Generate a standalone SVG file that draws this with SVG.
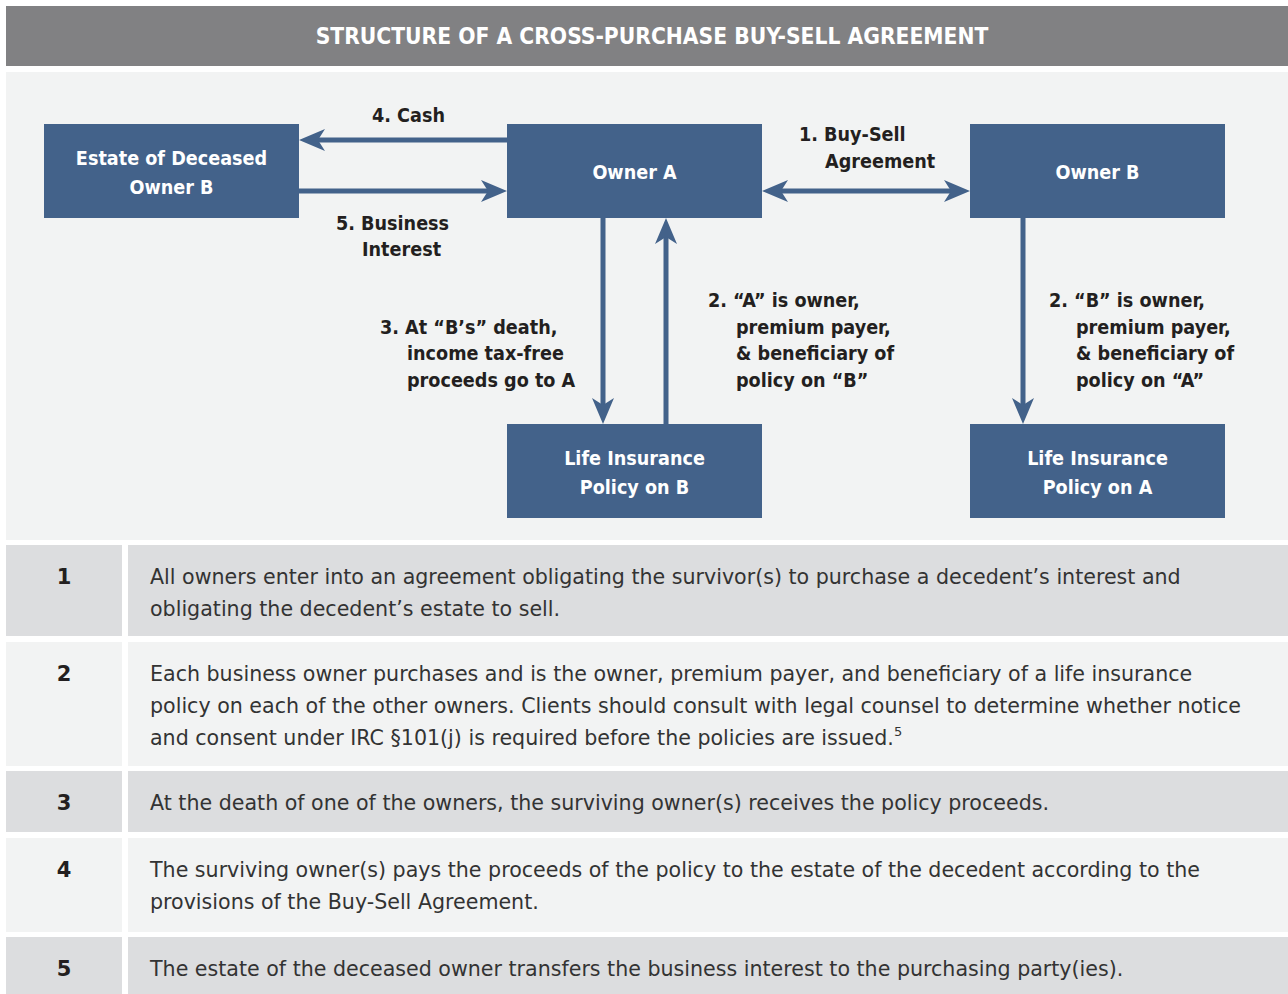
<svg xmlns="http://www.w3.org/2000/svg" width="1288" height="994" viewBox="0 0 1288 994">
<defs>
<style>
.node rect{fill:#43628a}
.nt{font-family:"DejaVu Sans Condensed","DejaVu Sans",sans-serif;font-weight:bold;font-size:19.6px;fill:#ffffff;text-anchor:middle}
.lbl{font-family:"DejaVu Sans Condensed","DejaVu Sans",sans-serif;font-weight:bold;font-size:19.6px;fill:#231f20}
.conn line{stroke:#43628a;stroke-width:5}
.num{font-family:"DejaVu Sans",sans-serif;font-size:21px;fill:#231f20;text-anchor:middle;font-weight:bold}
.body{font-family:"DejaVu Sans",sans-serif;font-size:20.6px;fill:#333333}
.dark{fill:#dcdddf}
.light{fill:#f2f3f3}
</style>
<marker id="ah" markerUnits="userSpaceOnUse" markerWidth="26" markerHeight="22" refX="7" refY="11" orient="auto-start-reverse" viewBox="0 0 26 22">
<path d="M26,11 L0,0 L7,11 L0,22 Z" fill="#43628a"/>
</marker>
</defs>
<rect x="0" y="0" width="1288" height="994" fill="#ffffff"/>
<g id="header">
<rect x="6" y="6" width="1282" height="60" fill="#818183"/>
<text x="652" y="44" text-anchor="middle" style="font-family:'DejaVu Sans Condensed','DejaVu Sans',sans-serif;font-weight:bold;font-size:22.6px;fill:#ffffff">STRUCTURE OF A CROSS-PURCHASE BUY-SELL AGREEMENT</text>
</g>
<rect x="6" y="72" width="1282" height="468" fill="#f2f3f3"/>
<g id="connectors" class="conn">
<line x1="507" y1="140" x2="318" y2="140" marker-end="url(#ah)"/>
<line x1="299" y1="191" x2="488" y2="191" marker-end="url(#ah)"/>
<line x1="781" y1="191" x2="951" y2="191" marker-start="url(#ah)" marker-end="url(#ah)"/>
<line x1="603" y1="218" x2="603" y2="405" marker-end="url(#ah)"/>
<line x1="666" y1="424" x2="666" y2="237" marker-end="url(#ah)"/>
<line x1="1023" y1="218" x2="1023" y2="405" marker-end="url(#ah)"/>
</g>
<g id="labels" class="lbl">
<text x="372" y="122">4. Cash</text>
<text x="336" y="230">5. Business</text>
<text x="362" y="256">Interest</text>
<text x="799" y="141">1. Buy-Sell</text>
<text x="825" y="168">Agreement</text>
<text x="380" y="334">3. At “B’s” death,</text>
<text x="407" y="360">income tax-free</text>
<text x="407" y="387">proceeds go to A</text>
<text x="708" y="307">2. “A” is owner,</text>
<text x="736" y="334">premium payer,</text>
<text x="736" y="360">&amp; beneficiary of</text>
<text x="736" y="387">policy on “B”</text>
<text x="1049" y="307">2. “B” is owner,</text>
<text x="1076" y="334">premium payer,</text>
<text x="1076" y="360">&amp; beneficiary of</text>
<text x="1076" y="387">policy on “A”</text>
</g>
<g id="estate" class="node">
<rect x="44" y="124" width="255" height="94"/>
<text class="nt" x="171.5" y="165">Estate of Deceased</text>
<text class="nt" x="171.5" y="194">Owner B</text>
</g>
<g id="ownerA" class="node">
<rect x="507" y="124" width="255" height="94"/>
<text class="nt" x="634.5" y="179">Owner A</text>
</g>
<g id="ownerB" class="node">
<rect x="970" y="124" width="255" height="94"/>
<text class="nt" x="1097.5" y="179">Owner B</text>
</g>
<g id="policyB" class="node">
<rect x="507" y="424" width="255" height="94"/>
<text class="nt" x="634.5" y="465">Life Insurance</text>
<text class="nt" x="634.5" y="494">Policy on B</text>
</g>
<g id="policyA" class="node">
<rect x="970" y="424" width="255" height="94"/>
<text class="nt" x="1097.5" y="465">Life Insurance</text>
<text class="nt" x="1097.5" y="494">Policy on A</text>
</g>
<g id="table">
<rect class="dark" x="6" y="545" width="116" height="91"/>
<rect class="dark" x="128" y="545" width="1160" height="91"/>
<rect class="light" x="6" y="642" width="116" height="124"/>
<rect class="light" x="128" y="642" width="1160" height="124"/>
<rect class="dark" x="6" y="771" width="116" height="61"/>
<rect class="dark" x="128" y="771" width="1160" height="61"/>
<rect class="light" x="6" y="838" width="116" height="94"/>
<rect class="light" x="128" y="838" width="1160" height="94"/>
<rect class="dark" x="6" y="937" width="116" height="57"/>
<rect class="dark" x="128" y="937" width="1160" height="57"/>
<text class="num" x="64" y="584">1</text>
<text class="num" x="64" y="681">2</text>
<text class="num" x="64" y="810">3</text>
<text class="num" x="64" y="877">4</text>
<text class="num" x="64" y="976">5</text>
<text class="body" x="150" y="584">All owners enter into an agreement obligating the survivor(s) to purchase a decedent’s interest and</text>
<text class="body" x="150" y="616">obligating the decedent’s estate to sell.</text>
<text class="body" x="150" y="681">Each business owner purchases and is the owner, premium payer, and beneficiary of a life insurance</text>
<text class="body" x="150" y="713">policy on each of the other owners. Clients should consult with legal counsel to determine whether notice</text>
<text class="body" x="150" y="745">and consent under IRC §101(j) is required before the policies are issued.<tspan font-size="13" dy="-9">5</tspan></text>
<text class="body" x="150" y="810">At the death of one of the owners, the surviving owner(s) receives the policy proceeds.</text>
<text class="body" x="150" y="877">The surviving owner(s) pays the proceeds of the policy to the estate of the decedent according to the</text>
<text class="body" x="150" y="909">provisions of the Buy-Sell Agreement.</text>
<text class="body" x="150" y="976">The estate of the deceased owner transfers the business interest to the purchasing party(ies).</text>
</g>
</svg>
